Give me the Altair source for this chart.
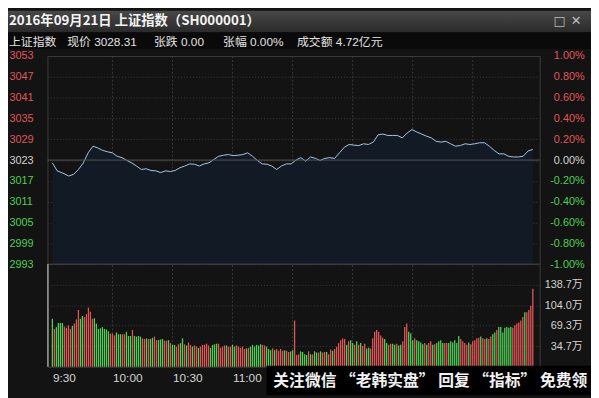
import altair as alt
import pandas as pd

# ---------------- data ----------------
prev_close = 3023
price_ticks = [3053, 3047, 3041, 3035, 3029, 3023, 3017, 3011, 3005, 2999, 2993]
pct_ticks = [1.0, 0.8, 0.6, 0.4, 0.2, 0.0, -0.2, -0.4, -0.6, -0.8, -1.0]
vol_ticks = [34.7, 69.3, 104.0, 138.7]
time_ticks = [0, 30, 60, 90]
time_labels = ["9:30", "10:00", "10:30", "11:00"]
grid_minutes = [30, 60, 90, 120, 150, 180, 210]

price_values = [
    3022.2, 3019.9, 3019.1, 3018.4, 3018.9, 3020.3, 3022.2, 3025.1, 3027.0, 3026.5,
    3025.8, 3025.4, 3025.1, 3024.1, 3023.7, 3022.9, 3022.2, 3021.3, 3020.3, 3020.5,
    3020.0, 3019.9, 3019.4, 3019.9, 3019.7, 3020.0, 3020.8, 3021.3, 3021.9, 3021.8,
    3021.3, 3021.9, 3022.2, 3023.2, 3024.1, 3024.4, 3024.6, 3024.3, 3024.4, 3024.6,
    3025.1, 3024.1, 3022.9, 3021.9, 3021.8, 3021.3, 3020.3, 3021.3, 3021.9, 3021.9,
    3023.0, 3023.7, 3022.7, 3023.9, 3023.5, 3022.9, 3023.5, 3023.7, 3023.5, 3025.1,
    3026.7, 3027.5, 3027.3, 3027.2, 3027.7, 3027.5, 3028.2, 3030.3, 3030.5, 3030.1,
    3030.1, 3030.1, 3029.4, 3030.8, 3031.8, 3031.1, 3030.5, 3029.9, 3029.4, 3028.4,
    3028.2, 3028.4, 3027.7, 3027.0, 3027.2, 3027.7, 3027.5, 3027.7, 3028.0, 3028.0,
    3027.0, 3025.8, 3024.8, 3024.8, 3024.1, 3023.9, 3023.9, 3024.1, 3025.6, 3026.1,
]
# sample times in minutes after 9:30 (trading minutes, 0..240)
price_minutes = [0.0, 2.4] + [round(5.8 + 2.4145 * k, 2) for k in range(98)]

# volume per trading minute (万手), 241 bars
vol_am1 = [81, 64, 67, 74, 74, 74, 68, 66, 70, 64, 69, 73, 80, 96, 81, 86, 84, 89, 100, 93,
           81, 82, 73, 64, 65, 67, 64, 63, 60, 56, 56, 53, 58, 55, 55, 55, 55, 59, 52, 52,
           62, 52, 51, 52, 51, 48, 47, 48, 47, 47, 49, 51, 45, 45, 46, 47, 44, 44, 45, 40, 37]
dir_am1 = "grggggrrrr" "grrrggrrrr" "rggggggggr" "rrgggrrggg" "rggggrrgrg" "grrgggrrgr" "g"
vol_am2 = [37, 34, 38, 40, 48, 38, 36, 41, 37, 34, 36, 34, 32, 34, 37, 37, 39, 36, 32, 37,
           38, 39, 39, 32, 34, 36, 36, 34, 34, 37, 34, 36, 34, 32, 34, 30, 31, 32, 34, 37,
           34, 37, 36, 38, 37, 36, 34, 30, 28, 31, 28, 30, 27, 30, 27, 28, 27, 25, 26, 28]
dir_am2 = "grrggrgrrg" "rrgrrrrrgg" "ggrrrrgrrg" "grrrrrgrgg" "ggggrrgggr" "grrrrgrrgg"
vol_pm1 = [78]
dir_pm1 = "r"
vol_pm2 = [20, 21, 26, 25, 21, 20, 26, 21, 21, 26, 24, 24, 26, 24, 25, 25, 21, 29, 27, 30,
           34, 40, 45, 48, 47, 37, 43, 45, 40, 37, 43, 37, 40, 35, 39, 31, 32, 31, 48, 59,
           62, 59, 53, 49, 47, 40, 37, 39, 39, 37, 39, 36, 37, 43, 67, 73, 59, 56]
dir_pm2 = "rrggggrgrg" "grgrrgrrgr" "rrrrrgrggr" "grgrrggrrr" "rrrrggrrgg" "rggrrrgg"
vol_pm3 = [45, 48, 45, 43, 41, 38, 40, 37, 40, 43, 37, 38, 40, 43, 45, 40, 40, 40, 40, 43,
           41, 45, 40, 52, 47, 43, 40, 37, 41, 38, 43, 45, 48, 49, 51, 48, 47, 48, 47, 51,
           55, 58, 62, 67, 67, 58, 66, 67, 66, 67, 66, 70, 73, 75, 78, 84, 92, 92, 96, 103, 132]
dir_pm3 = "grggggrgrr" "grggggrrgg" "ggggrrrrgr" "rrrrgrrgrr" "ggrggggggg" "rrrrrrgrrrr"

vol_values = vol_am1 + vol_am2 + vol_pm1 + vol_pm2 + vol_pm3
vol_dirs = list(dir_am1 + dir_am2 + dir_pm1 + dir_pm2 + dir_pm3)
vol_minutes = list(range(len(vol_values)))

title_text = "2016年09月21日  上证指数（SH000001）"
info_items = ["上证指数", "现价 3028.31", "张跌 0.00", "张幅 0.00%", "成交额 4.72亿元"]
watermark_text = "关注微信 “老韩实盘” 回复 “指标” 免费领"

# ---------------- layout / style ----------------
RED, GREEN, WHITE = "#e25656", "#4fcf55", "#d4d4d4"
BG = "#131313"
GRID = "#3a3a3a"
FONT_NUM = "Liberation Sans, Noto Sans CJK SC"
FONT_CJK = "Noto Sans CJK SC"
VIEW_W, VIEW_H, X_RANGE, PRICE_H = 499, 315, 497, 211

price_df = pd.DataFrame({"minute": price_minutes, "price": price_values})
vol_df = pd.DataFrame({"minute": vol_minutes, "vol": vol_values, "dir": vol_dirs})
grid_df = pd.DataFrame({"m": grid_minutes})
ref_df = pd.DataFrame({"p": [prev_close]})
pct_df = pd.DataFrame({"pct": pct_ticks})
one = pd.DataFrame({"k": [0]})

time_expr = " : ".join(
    f"datum.value == {t} ? '{l}'" for t, l in zip(time_ticks[:-1], time_labels[:-1])
) + f" : '{time_labels[-1]}'"

x_scale = alt.Scale(domain=[0, 240], range=[0, X_RANGE], nice=False, zero=False)
x_axis = alt.Axis(values=time_ticks, labelExpr=time_expr, title=None, grid=False,
                  domain=False, ticks=False, tickSize=0, labelAlign="left",
                  labelBaseline="top", labelPadding=6, labelColor=WHITE,
                  labelFont=FONT_NUM, labelFontSize=12, labelFlush=False,
                  labelOverlap=False)


def X(field):
    return alt.X(f"{field}:Q", scale=x_scale, axis=x_axis)


price_scale = alt.Scale(domain=[2993, 3053], range=[PRICE_H, 0], nice=False, zero=False)
pct_scale = alt.Scale(domain=[-1, 1], range=[PRICE_H, 0], nice=False, zero=False)
vol_scale = alt.Scale(domain=[0, 173.4], range=[VIEW_H, PRICE_H], nice=False)

price_axis = alt.Axis(
    values=price_ticks, orient="left", title=None, domain=False, ticks=False, tickSize=0,
    labelAlign="left", labelBaseline="middle", labelPadding=39, labelFont=FONT_NUM,
    labelFontSize=11, labelFlush=False, labelOverlap=False, format="d",
    labelColor={"expr": f"datum.value > {prev_close} ? '{RED}' : (datum.value < {prev_close} ? '{GREEN}' : '{WHITE}')"},
    grid=True, gridColor=GRID, gridDash=[1, 2], gridWidth=1)
pct_axis = alt.Axis(
    values=pct_ticks, orient="right", title=None, domain=False, ticks=False, tickSize=0,
    labelAlign="right", labelBaseline="middle", labelPadding=45, labelFont=FONT_NUM,
    labelFontSize=11, labelFlush=False, labelOverlap=False, grid=False,
    labelExpr="(datum.value < 0 ? '-' : '') + format(abs(datum.value), '.2f') + '%'",
    labelColor={"expr": f"datum.value > 0.001 ? '{RED}' : (datum.value < -0.001 ? '{GREEN}' : '{WHITE}')"})
vol_axis = alt.Axis(
    values=vol_ticks, orient="right", title=None, domain=False, ticks=False, tickSize=0,
    labelAlign="right", labelBaseline="middle", labelPadding=43, labelFont=FONT_NUM,
    labelFontSize=11, labelFlush=False, labelOverlap=False, labelColor=WHITE,
    labelExpr="format(datum.value, '.1f') + '万'",
    grid=True, gridColor=GRID, gridDash=[1, 2], gridWidth=1)

layers = []

# title bar and info row backgrounds
layers.append(alt.Chart(one).mark_rect(color=alt.Gradient(
    gradient="linear", x1=0, x2=0, y1=0, y2=1,
    stops=[alt.GradientStop(color="#484848", offset=0),
           alt.GradientStop(color="#2a2a2a", offset=1)])).encode(
    x=alt.value(-40), x2=alt.value(551), y=alt.value(-46), y2=alt.value(-24)))
layers.append(alt.Chart(one).mark_rect(color="#0a0a0a").encode(
    x=alt.value(-40), x2=alt.value(551), y=alt.value(-24), y2=alt.value(-7)))

# vertical dashed grid
layers.append(alt.Chart(grid_df).mark_rule(color=GRID, strokeDash=[2, 2]).encode(
    x=X("m"), y=alt.value(0), y2=alt.value(VIEW_H)))

# price area + line
layers.append(alt.Chart(price_df).mark_area(color="#111a25", opacity=1).encode(
    x=X("minute"), y=alt.Y("price:Q", scale=price_scale, axis=price_axis),
    y2=alt.datum(2993)))
layers.append(alt.Chart(price_df).mark_line(color="#a6c8e4", strokeWidth=1).encode(
    x=X("minute"), y=alt.Y("price:Q", scale=price_scale, axis=None)))

# previous-close reference line
layers.append(alt.Chart(ref_df).mark_rule(color="#555555").encode(
    y=alt.Y("p:Q", scale=price_scale, axis=None), x=alt.value(0), x2=alt.value(VIEW_W)))

# percent axis holder
layers.append(alt.Chart(pct_df).mark_point(opacity=0).encode(
    y=alt.Y("pct:Q", scale=pct_scale, axis=pct_axis)))

# panel separator and volume-panel left line
layers.append(alt.Chart(one).mark_rule(color="#4a4a4a").encode(
    x=alt.value(0), x2=alt.value(VIEW_W), y=alt.value(PRICE_H)))
layers.append(alt.Chart(one).mark_rule(color="#d8d8d8").encode(
    x=alt.value(0.5), y=alt.value(PRICE_H), y2=alt.value(VIEW_H)))

# volume bars
layers.append(alt.Chart(vol_df).mark_bar(size=1.3).encode(
    x=X("minute"), y=alt.Y("vol:Q", scale=vol_scale, axis=vol_axis),
    color=alt.Color("dir:N", scale=alt.Scale(domain=["r", "g"], range=[RED, GREEN]),
                    legend=None)))

# watermark
layers.append(alt.Chart(one).mark_rect(color="#000000").encode(
    x=alt.value(222), x2=alt.value(551), y=alt.value(314), y2=alt.value(344)))
layers.append(alt.Chart(one).mark_text(
    text=watermark_text, font=FONT_CJK, fontSize=16, fontWeight="bold",
    color="#f2f2f2", align="left", baseline="middle").encode(
    x=alt.value(229), y=alt.value(330)))

# title & icons
layers.append(alt.Chart(one).mark_text(
    text=title_text, font=FONT_CJK, fontSize=13.5, fontWeight="bold", color="#f4f4f4",
    align="left", baseline="middle").encode(x=alt.value(-39), y=alt.value(-35)))
layers.append(alt.Chart(one).mark_text(
    text="□", font="DejaVu Sans", fontSize=13, color="#bdbdbd",
    align="center", baseline="middle").encode(x=alt.value(519), y=alt.value(-35)))
layers.append(alt.Chart(one).mark_text(
    text="✕", font="DejaVu Sans", fontSize=13, color="#bdbdbd",
    align="center", baseline="middle").encode(x=alt.value(536), y=alt.value(-35)))

# info row
info_x = [-39, 20, 108, 178, 253]
for txt, xv in zip(info_items, info_x):
    layers.append(alt.Chart(one).mark_text(
        text=txt, font=FONT_NUM, fontSize=12, color="#e2e2e2",
        align="left", baseline="middle").encode(x=alt.value(xv), y=alt.value(-14.5)))

chart = alt.layer(*layers).resolve_scale(y="independent").resolve_axis(
    y="independent").properties(
    width=VIEW_W, height=VIEW_H, background=BG,
    padding={"left": 40, "top": 46, "right": 52, "bottom": 29},
    autosize=alt.AutoSizeParams(type="none"),
).configure_view(stroke="#3c3c3c", strokeWidth=1)

chart.save("out.html", embed_options={"renderer": "svg", "actions": False})
